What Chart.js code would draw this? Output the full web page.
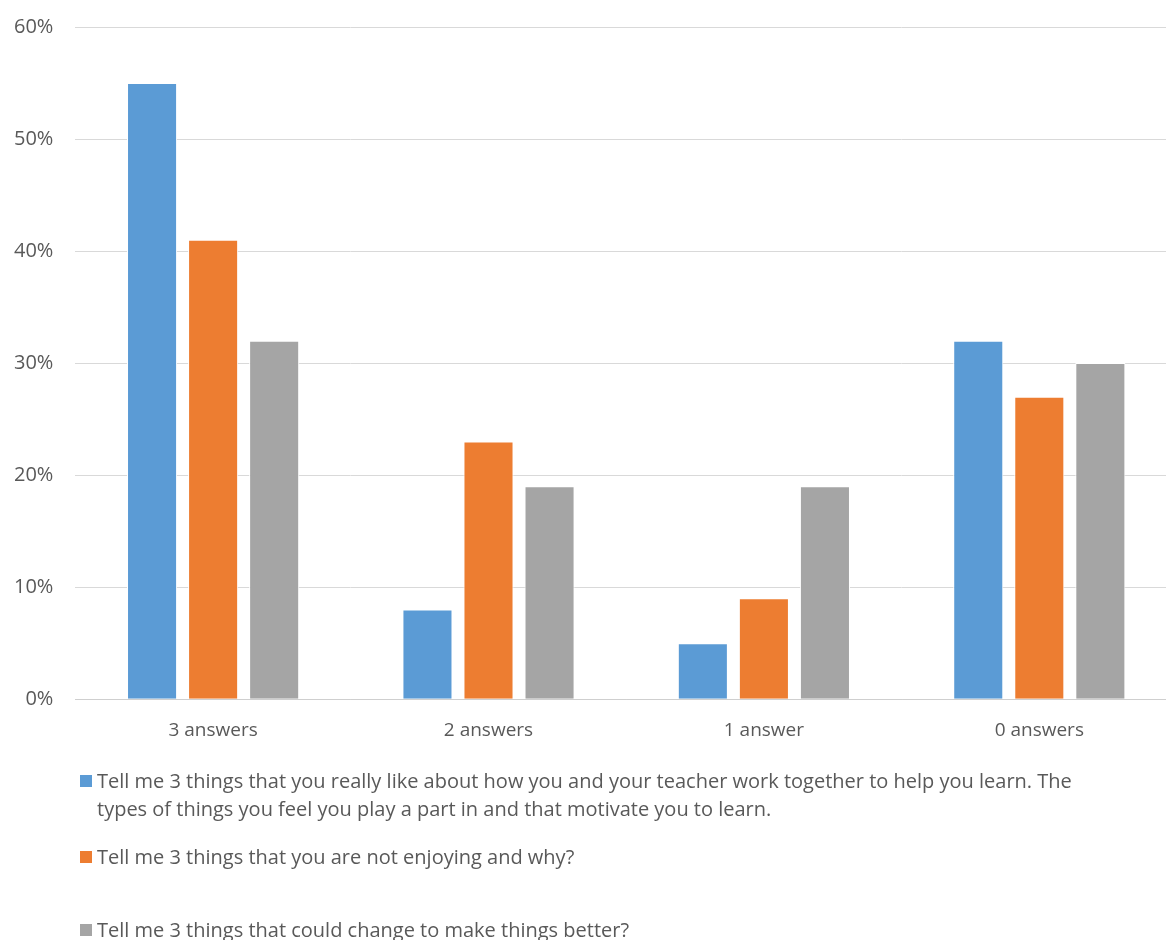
<!DOCTYPE html>
<html>
<head>
<meta charset="utf-8">
<script src="https://cdn.jsdelivr.net/npm/chart.js@4/dist/chart.umd.min.js"></script>
<style>
  body { margin: 0; background: #fff; font-family: "Open Sans", sans-serif; }
  #wrap { position: relative; width: 1166px; height: 940px; overflow: hidden; }
  #box { position: absolute; left: 0; top: -7px; width: 1177px; height: 779px; }
  #legend { position: absolute; left: 80px; top: 767px; width: 1040px; color: #595959; font-size: 20px; line-height: 28px; }
  .item { position: relative; padding-left: 17px; }
  .sw { position: absolute; left: 0; top: 8px; width: 12px; height: 12px; }
</style>
</head>
<body>
<div id="wrap">
  <div id="box"><canvas id="myChart"></canvas></div>
  <div id="legend"></div>
</div>
<script>
  const categories = ['3 answers', '2 answers', '1 answer', '0 answers'];
  const seriesNames = [
    'Tell me 3 things that you really like about how you and your teacher work together to help you learn. The types of things you feel you play a part in and that motivate you to learn.',
    'Tell me 3 things that you are not enjoying and why?',
    'Tell me 3 things that could change to make things better?'
  ];
  const likeValues = [55, 8, 5, 32];
  const notEnjoyValues = [41, 23, 9, 27];
  const changeValues = [32, 19, 19, 30];
  const colors = ['#5b9bd5', '#ed7d31', '#a5a5a5'];

  const ctx = document.getElementById('myChart').getContext('2d');
  const values = [likeValues, notEnjoyValues, changeValues];

  const data = {
    labels: categories,
    datasets: values.map((v, i) => ({
      label: seriesNames[i],
      data: v,
      backgroundColor: colors[i],
      borderColor: '#ffffff',
      borderWidth: 1,
      categoryPercentage: 0.665,
      barPercentage: 0.82
    }))
  };

  const config = {
    type: 'bar',
    data: data,
    options: {
      responsive: true,
      maintainAspectRatio: false,
      animation: false,
      layout: { padding: { top: 0, left: -8, right: 0, bottom: 10 } },
      plugins: {
        legend: { display: false },
        tooltip: { enabled: false }
      },
      scales: {
        x: {
          grid: { display: false, drawTicks: false },
          border: { color: '#cfcfcf' },
          ticks: { color: '#595959', padding: 20, font: { family: 'Open Sans', size: 19 } }
        },
        y: {
          min: 0,
          max: 60,
          grid: { color: '#d9d9d9', drawTicks: false },
          border: { display: false },
          ticks: {
            stepSize: 10,
            color: '#595959',
            padding: 22,
            font: { family: 'Open Sans', size: 20 },
            callback: v => v + '%'
          }
        }
      }
    }
  };

  const myChart = new Chart(ctx, config);

  // legend with wrapping text, built from the dataset labels
  const legendEl = document.getElementById('legend');
  const gaps = [20, 45, 0];
  data.datasets.forEach((ds, i) => {
    const d = document.createElement('div');
    d.className = 'item';
    d.style.marginBottom = gaps[i] + 'px';
    d.innerHTML = '<span class="sw" style="background:' + ds.backgroundColor + '"></span>';
    d.appendChild(document.createTextNode(ds.label));
    legendEl.appendChild(d);
  });
</script>
</body>
</html>
